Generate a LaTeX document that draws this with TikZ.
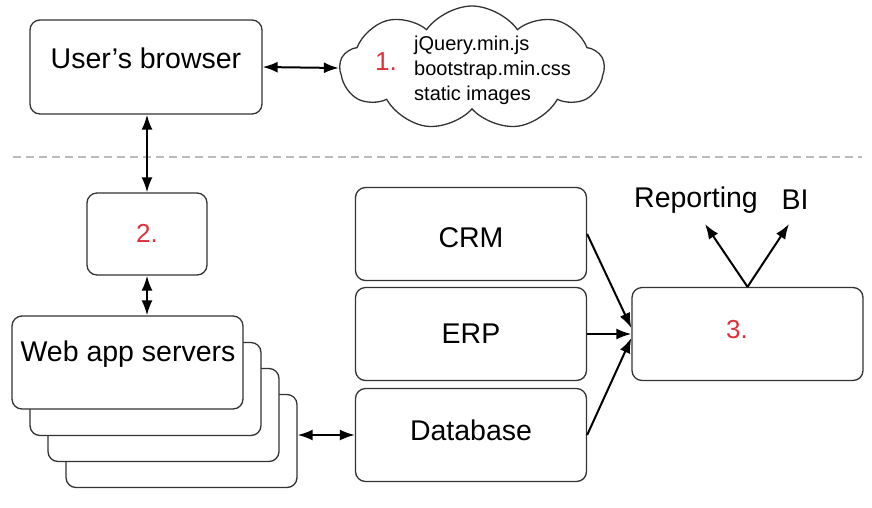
\documentclass[tikz,border=0pt]{standalone}
\usepackage{fontspec}
\setmainfont{Liberation Sans}
\usetikzlibrary{arrows.meta,shapes.symbols}
\definecolor{boxline}{HTML}{333333}
\definecolor{numred}{HTML}{E0303A}
\definecolor{sepgray}{HTML}{BBBBBB}
\tikzset{
    box/.style={draw=boxline, line width=1.3pt, rounded corners=10pt, fill=white,
        minimum width=231pt, minimum height=93pt, inner sep=0pt,
        font=\fontsize{28.5}{32}\selectfont},
    lbl/.style={font=\fontsize{28.5}{32}\selectfont, inner sep=0pt},
    num/.style={text=numred, font=\fontsize{26}{30}\selectfont, inner sep=0pt},
    link/.style={line width=2pt, {Latex[length=15pt,width=11pt]}-{Latex[length=15pt,width=11pt]}},
    feed/.style={line width=2pt, -{Latex[length=15pt,width=11pt]}},
}
\begin{document}
\begin{tikzpicture}[x=1pt, y=-1pt]
            \useasboundingbox (0, 0) rectangle (872, 507);

            % separator
            \coordinate (sepL) at (13, 157);
            \coordinate (sepR) at (862, 157);
            \draw[sepgray, line width=1.2pt, dash pattern=on 8pt off 5pt] (sepL) -- (sepR);

            \node[box, minimum width=232pt, minimum height=94pt] (browser) at (146, 67) {};
            \node[lbl] (browserlbl) at (146, 58) {User’s browser};

            \node[cloud, draw=boxline, line width=1.3pt, fill=white, cloud puffs=9,
                cloud puff arc=110, cloud ignores aspect, minimum width=264pt,
                minimum height=124pt] (cdn) at (472, 68) {};
            \node[num] (one) at (386, 62) {1.};
            \node[anchor=west, align=left, inner sep=0pt, font=\fontsize{20}{25}\selectfont]
                (cdnlbl) at (414, 70) {jQuery.min.js\\bootstrap.min.css\\static images};
            \draw[link] (browser.east) -- (cdn.west);

            \node[box, minimum width=120pt, minimum height=82pt] (proxy) at (147, 234) {};
            \node[num] (two) at (147, 233) {2.};
            \draw[link] (browser.south -| proxy.north) -- (proxy.north);

            \begin{scope}
                \node[box] (web4) at (181.5, 441) {};
                \node[box] (web3) at (163.5, 415) {};
                \node[box] (web2) at (145.5, 389) {};
                \node[box] (web1) at (127.5, 362.5) {};
                \node[lbl] (weblbl) at (128, 354) {Web app servers};
            \end{scope}
            \draw[link] (proxy.south) -- (proxy.south |- web1.north);

            \node[box] (crm) at (471, 234) {};
            \node[lbl] (crmlbl) at (471, 238) {CRM};
            \node[box] (erp) at (471, 334) {ERP};
            \node[box] (db) at (471, 435) {};
            \node[lbl] (dblbl) at (471, 430) {Database};
            \draw[link] (web4.east |- db.west) -- (db.west);

            \node[box] (dw) at (747.5, 334) {};
            \node[num] (three) at (737, 330) {3.};
            \draw[feed] (crm.east) -- ([yshift=6pt]dw.west);
            \draw[feed] (erp.east) -- (dw.west);
            \draw[feed] (db.east) -- ([yshift=-4pt]dw.west);

            \node[lbl] (rep) at (696, 200) {Reporting};
            \node[lbl] (bi) at (795, 200) {BI};
            \coordinate (repend) at (705, 224);
            \coordinate (biend) at (789, 224);
            \draw[feed] (dw.north) -- (repend);
            \draw[feed] (dw.north) -- (biend);
        \end{tikzpicture}
\end{document}
